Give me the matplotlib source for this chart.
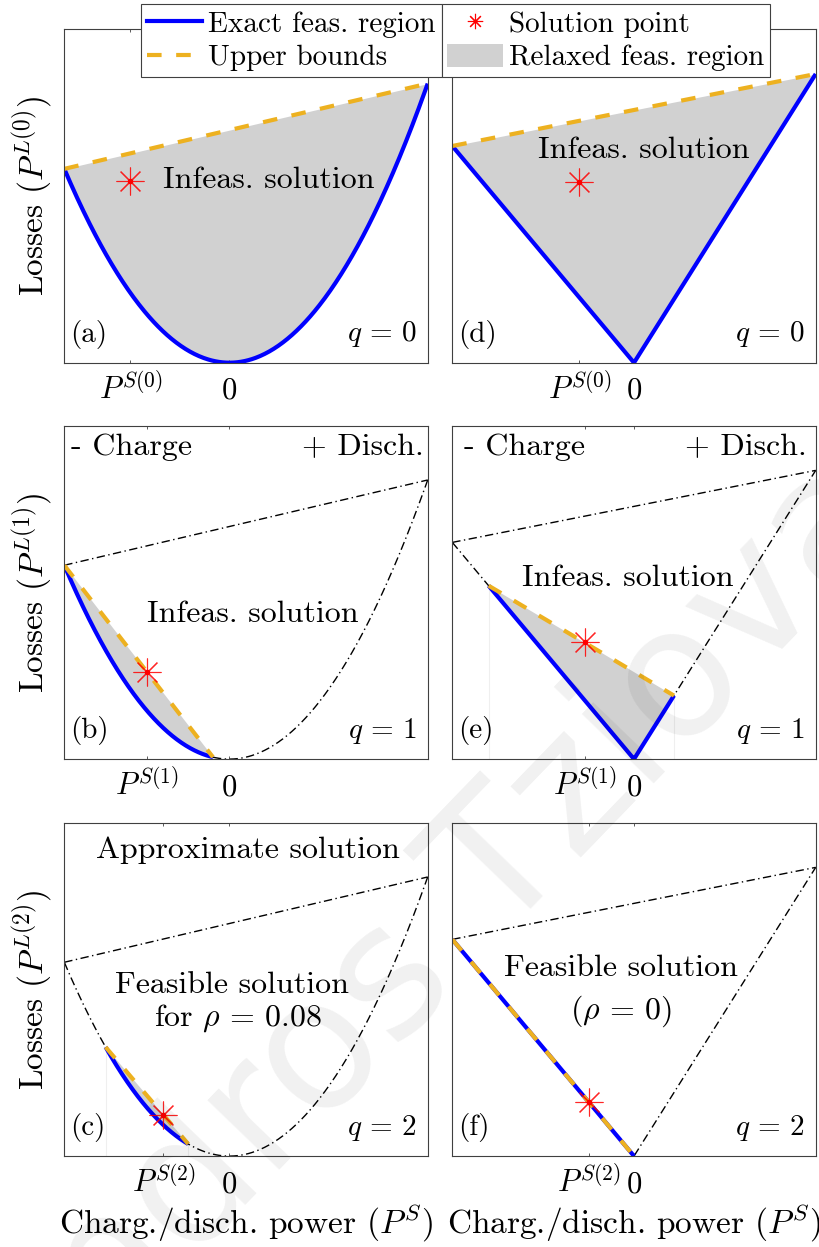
import numpy as np
import matplotlib.pyplot as plt
from matplotlib.lines import Line2D
from matplotlib.patches import Patch

plt.rcParams.update({
    "font.family": "cmr10",
    "mathtext.fontset": "cm",
    "axes.unicode_minus": False,
    "axes.formatter.use_mathtext": True,
})

W, H = 819, 1247  # output size in px (dpi 100)

# loss models: quadratic (left column) and piecewise linear (right column)
QUAD_COEF = 1.0
LIN_SLOPE_CH = 0.65
LIN_SLOPE_DIS = 0.866
PS_RANGE_QUAD = (-1.0, 1.2)
PS_RANGE_LIN = (-1.0, 1.0)
PL_MAX_QUAD = 1.72
PL_MAX_LIN = 1.0

# relaxed region bounds and solution point for each iteration q = 0, 1, 2
ITERS = [0, 1, 2]
REGION_QUAD = [(-1.0, 1.2), (-1.0, -0.1), (-0.75, -0.25)]
REGION_LIN = [(-1.0, 1.0), (-0.8, 0.22), (-1.0, 0.0)]
SOL_PS_QUAD = [-0.6, -0.5, -0.4]
SOL_PL_QUAD = [0.935, 0.45, 0.2125]
SOL_PS_LIN = [-0.3, -0.27, -0.25]
SOL_PL_LIN = [0.541, 0.35, 0.1625]
TAGS_QUAD = ["(a)", "(b)", "(c)"]
TAGS_LIN = ["(d)", "(e)", "(f)"]

BLUE = "#0000ff"
ORANGE = "#edb120"
GRAY = "#d1d1d1"
AX_COL = "0.25"
DASH = (0, (3.5, 3.5))
DASHDOT = (0, (6, 2.5, 1, 2.5))

# axes boxes in px: left edge per column, top edge per row
COL_X = [64.3, 452.3]
ROW_TOP = [29.3, 425.7, 822.7]
AX_W, AX_H = 363.4, 333.4


def loss_quad(p):
    return QUAD_COEF * p ** 2


def loss_lin(p):
    return np.where(p < 0, -LIN_SLOPE_CH * p, LIN_SLOPE_DIS * p)


def sample(lo, hi):
    p = np.linspace(lo, hi, 400)
    if lo < 0 < hi:
        p = np.union1d(p, [0.0])
    return p


def chord(loss, lo, hi, p):
    return loss(lo) + (loss(hi) - loss(lo)) * (p - lo) / (hi - lo)


def draw_panel(ax, loss, full, region, ps, pl, q, ymax):
    lo, hi = region
    if q > 0:
        pf = sample(*full)
        ax.plot(pf, loss(pf), color="k", lw=1, ls=DASHDOT)
        ax.plot(pf, chord(loss, full[0], full[1], pf), color="k", lw=1, ls=DASHDOT)
        # faint edges left by the area fill
        for e in region:
            if full[0] < e < full[1] and abs(e) > 1e-9:
                ax.plot([e, e], [0, loss(e)], color="#efefef", lw=0.8, zorder=0.5)
    p = sample(lo, hi)
    ub = chord(loss, lo, hi, p)
    ax.fill_between(p, loss(p), ub, color=GRAY, lw=0)
    ax.plot(p, loss(p), color=BLUE, lw=3, solid_capstyle="butt")
    ax.plot(p, ub, color=ORANGE, lw=3, ls=DASH)
    ax.plot(ps, pl, ls="none", marker=(8, 2, 0), ms=20, mec="red", mew=0.8, alpha=0.85)
    ax.plot(ps, pl, ls="none", marker="o", ms=3, color="red")
    ax.set_xlim(*full)
    ax.set_ylim(0, ymax)
    ax.set_yticks([])
    ax.set_xticks([ps, 0], [f"$P^{{S({q})}}$", "0"], va="baseline")
    ax.tick_params(axis="x", direction="in", top=True, length=2.5, width=0.6,
                   color=AX_COL, labelsize=22, pad=26)
    for s in ax.spines.values():
        s.set_color(AX_COL)
        s.set_linewidth(0.8)


def txt(ax, x, y, s, ha="center", size=23):
    ax.text(x, y, s, transform=ax.transAxes, ha=ha, va="center", fontsize=size)


fig = plt.figure(figsize=(W / 100, H / 100), dpi=100)
axes = {}
for c in range(2):
    for r in range(3):
        rect = [COL_X[c] / W, 1 - (ROW_TOP[r] + AX_H) / H, AX_W / W, AX_H / H]
        axes[c, r] = fig.add_axes(rect)

for q in ITERS:
    ax = axes[0, q]
    draw_panel(ax, loss_quad, PS_RANGE_QUAD, REGION_QUAD[q], SOL_PS_QUAD[q],
               SOL_PL_QUAD[q], q, PL_MAX_QUAD)
    txt(ax, 0.016, 0.085, TAGS_QUAD[q], ha="left", size=21)
    txt(ax, 0.97, 0.085, rf"$q\,=\,{q}$", ha="right", size=21)
    ax.set_ylabel(f"Losses ($P^{{L({q})}}$)", fontsize=24, va="center")
    ax.yaxis.set_label_coords(-0.089, 0.5)

    ax = axes[1, q]
    draw_panel(ax, loss_lin, PS_RANGE_LIN, REGION_LIN[q], SOL_PS_LIN[q],
               SOL_PL_LIN[q], q, PL_MAX_LIN)
    txt(ax, 0.015, 0.085, TAGS_LIN[q], ha="left", size=21)
    txt(ax, 0.97, 0.085, rf"$q\,=\,{q}$", ha="right", size=21)

for c in range(2):
    ax = axes[c, 2]
    ax.set_xlabel("Charg./disch. power ($P^S$)", fontsize=24, va="baseline")
    ax.xaxis.set_label_coords(0.5, -77 / AX_H)

txt(axes[0, 0], 0.272, 0.548, "Infeas. solution", ha="left")
txt(axes[1, 0], 0.527, 0.638, "Infeas. solution")
txt(axes[0, 1], 0.52, 0.433, "Infeas. solution")
txt(axes[1, 1], 0.484, 0.543, "Infeas. solution")
txt(axes[0, 1], 0.018, 0.935, "- Charge", ha="left")
txt(axes[0, 1], 0.988, 0.935, "+ Disch.", ha="right")
txt(axes[1, 1], 0.033, 0.935, "- Charge", ha="left")
txt(axes[1, 1], 0.975, 0.935, "+ Disch.", ha="right")
txt(axes[0, 2], 0.505, 0.918, "Approximate solution")
txt(axes[0, 2], 0.461, 0.513, "Feasible solution")
txt(axes[0, 2], 0.479, 0.413, r"for $\rho\,=\,0.08$")
txt(axes[1, 2], 0.464, 0.563, "Feasible solution")
txt(axes[1, 2], 0.464, 0.433, r"($\rho\,=\,0$)")

# legend: two framed blocks side by side
h_exact = Line2D([], [], color=BLUE, lw=3)
h_ub = Line2D([], [], color=ORANGE, lw=3, ls=DASH)
h_sol = Line2D([], [], ls="none", marker=(8, 2, 0), ms=11, mec="red", mew=0.8)
h_rel = Patch(facecolor=GRAY, edgecolor="none")
leg_kw = dict(frameon=True, fancybox=False, edgecolor=AX_COL, framealpha=1,
              borderaxespad=0, fontsize=21, handlelength=1.9, handleheight=0.85,
              handletextpad=0.2, labelspacing=0.2, borderpad=0.2)
leg1 = fig.legend([h_exact, h_ub], ["Exact feas. region", "Upper bounds"],
                  loc="upper right", bbox_to_anchor=(441.5 / W, 1 - 4.3 / H), **leg_kw)
leg2 = fig.legend([h_sol, h_rel], ["Solution point", "Relaxed feas. region"],
                  loc="upper left", bbox_to_anchor=(441.5 / W, 1 - 4.3 / H), **leg_kw)
for leg in (leg1, leg2):
    leg.get_frame().set_linewidth(0.8)

# faint watermark across the figure
fig.text(0.403, 0.162, "Alexandros Tziovas", rotation=46, rotation_mode="anchor",
         ha="center", va="center", fontsize=130, family="DejaVu Sans",
         color="k", alpha=0.06)

fig.savefig("out.png", dpi=100)
